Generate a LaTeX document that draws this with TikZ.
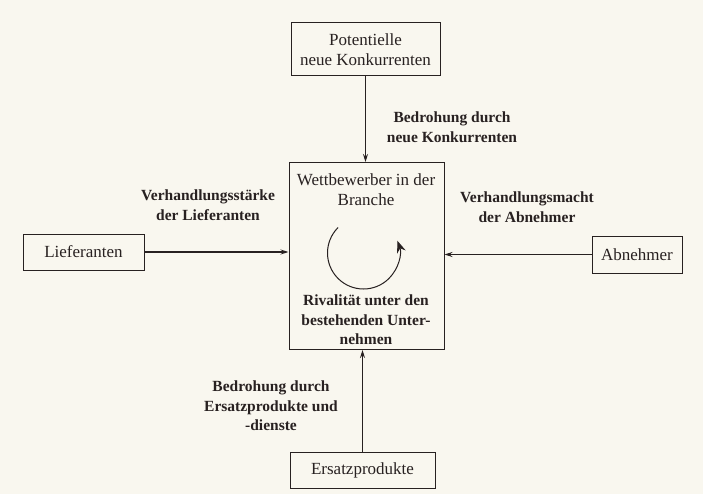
\documentclass[tikz,border=0pt]{standalone}
\usepackage{fontspec}
\setmainfont{Liberation Serif}
\usetikzlibrary{arrows.meta,calc}
\definecolor{paper}{RGB}{249,247,239}
\definecolor{ink}{RGB}{40,33,33}
\tikzset{
  box/.style={draw=ink, line width=1pt, inner sep=0pt, align=center,
    font=\fontsize{17}{20}\selectfont, text=ink},
  lbl/.style={align=center, font=\fontsize{15.5}{19.5}\selectfont\bfseries, text=ink, inner sep=0pt},
  txt/.style={align=center, font=\fontsize{17}{20}\selectfont, text=ink, inner sep=0pt},
  arr/.style={draw=ink, line width=1.1pt, -{Stealth[length=8pt,width=5pt]}},
}
\begin{document}
\begin{tikzpicture}[x=1pt,y=-1pt]
\fill[paper] (0,0) rectangle (703,494);
\useasboundingbox (0,0) rectangle (703,494);

\node[box, minimum width=149pt, minimum height=53pt] (top) at (365.5,49.5) {Potentielle\\neue Konkurrenten};
\node[box, minimum width=155pt, minimum height=187pt] (mid) at (366.5,256) {};
\node[box, minimum width=121pt, minimum height=36pt] (lief) at (83.5,252) {Lieferanten};
\node[box, minimum width=90pt, minimum height=37pt] (abn) at (637,254.5) {Abnehmer};
\node[box, minimum width=145pt, minimum height=36pt] (ers) at (362.5,470) {Ersatzprodukte};

\node[txt] (wb) at (366,190) {Wettbewerber in der\\Branche};
\node[lbl] (riv) at (366,320) {Rivalität unter den\\bestehenden Unter-\\nehmen};

\coordinate (cc) at (363.5,253);
\draw[draw=ink, line width=1pt, -{Stealth[length=12pt,width=9pt]}]
  ($(cc)+(-135:36)$) arc[start angle=-135, end angle=-380, radius=36];

\draw[arr] (top.south) -- (top.south |- mid.north);
\draw[arr] (ers.north) -- (ers.north |- mid.south);
\draw[arr] (lief.east) -- (lief.east -| mid.west);
\draw[arr] (abn.west) -- (abn.west -| mid.east);

\node[lbl] (l1) at (452,127) {Bedrohung durch\\neue Konkurrenten};
\node[lbl] (l2) at (208,205) {Verhandlungsstärke\\der Lieferanten};
\node[lbl] (l3) at (527,207) {Verhandlungsmacht\\der Abnehmer};
\node[lbl] (l4) at (271,406) {Bedrohung durch\\Ersatzprodukte und\\-dienste};
\end{tikzpicture}
\end{document}
